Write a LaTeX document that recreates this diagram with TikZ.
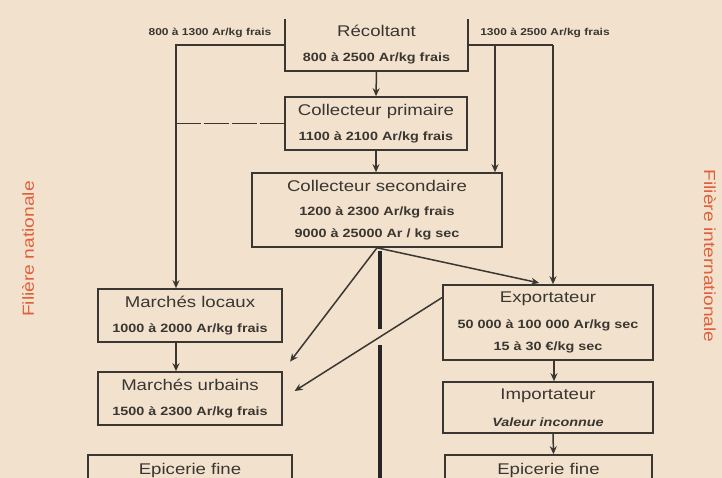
\documentclass[tikz,border=0pt]{standalone}
\usepackage{fontspec}
\usetikzlibrary{arrows.meta}
\newfontfamily\diagfont[FakeStretch=1.2]{Liberation Sans}
\definecolor{paper}{RGB}{242,226,205}
\definecolor{ink}{RGB}{58,54,50}
\definecolor{sidered}{RGB}{222,96,60}
\newcommand{\subtxt}{\fontsize{12}{25}\selectfont\bfseries}

\begin{document}
\begin{tikzpicture}[
    x=1pt, y=-1pt,
    box/.style={rectangle, draw=ink, line width=1.6pt, text=ink, align=center, inner sep=0pt, font=\diagfont\fontsize{15.5}{25}\selectfont},
    openbox/.style={box, draw=none},
    flow/.style={-{Stealth[length=8pt, width=7pt]}, line width=1.5pt, draw=ink},
    plain/.style={line width=1.5pt, draw=ink},
    trunk/.style={line width=4.5pt, draw=black!85},
    price/.style={font=\diagfont\fontsize{10}{12}\selectfont\bfseries, text=ink},
    side/.style={font=\diagfont\fontsize{16}{18}\selectfont, text=sidered}
]
    % Background and frame
    \fill[paper] (0,0) rectangle (722,478);
    \useasboundingbox (0,0) rectangle (722,478);
    % Producer
    \node[openbox, minimum width=181pt, minimum height=50pt] (recolt) at (376.5,45) {R\'ecoltant\\{\subtxt 800 \`a 2500 Ar/kg frais}};
    \draw[plain] (recolt.north west) -- (recolt.south west) -- (recolt.south east) -- (recolt.north east);
    % Collectors
    \node[box, minimum width=182pt, minimum height=53pt] (colp) at (376,123.5) {Collecteur primaire\\{\subtxt 1100 \`a 2100 Ar/kg frais}};
    \node[box, minimum width=250pt, minimum height=74pt] (cols) at (377,210) {Collecteur secondaire\\[-1pt]{\subtxt 1200 \`a 2300 Ar/kg frais}\\[-3pt]{\subtxt 9000 \`a 25000 Ar / kg sec}};
    % National chain
    \node[box, minimum width=184pt, minimum height=53pt] (mloc) at (190,315.5) {March\'es locaux\\{\subtxt 1000 \`a 2000 Ar/kg frais}};
    \node[box, minimum width=184pt, minimum height=53pt] (murb) at (190,398.5) {March\'es urbains\\{\subtxt 1500 \`a 2300 Ar/kg frais}};
    \node[box, minimum width=204pt, minimum height=30pt] (epl) at (190,470) {Epicerie fine};
    % International chain
    \node[box, minimum width=210pt, minimum height=75pt] (expo) at (548,322.5) {Exportateur\\[1pt]{\subtxt 50 000 \`a 100 000 Ar/kg sec}\\[-3pt]{\subtxt 15 \`a 30 \texteuro/kg sec}};
    \node[box, minimum width=210pt, minimum height=51pt] (impo) at (548,407.5) {Importateur\\[2pt]{\subtxt\itshape Valeur inconnue}};
    \node[box, minimum width=207pt, minimum height=30pt] (epr) at (548.5,470) {Epicerie fine};
    % Prices on the branches
    \node[price] (plocal) at (210,33) {800 \`a 1300 Ar/kg frais};
    \node[price] (pexport) at (545,33) {1300 \`a 2500 Ar/kg frais};
    % Side titles
    \node[side, rotate=90] (natl) at (28,249) {Fili\`ere nationale};
    \node[side, rotate=-90] (intl) at (710,256) {Fili\`ere internationale};
    % Turning points
    \coordinate (lturn) at (176,45);
    \coordinate (rmid) at (495,45);
    \coordinate (rturn) at (553,45);
    \coordinate (trunktop) at (380,251);
    \coordinate (gaptop) at (380,329);
    \coordinate (gapbot) at (380,345);
    \coordinate (trunkend) at (380,485);
    % Arrows
    \draw[flow] (recolt.west) -- (lturn) -- (lturn |- mloc.north);
    \draw[plain] (recolt.east) -- (rturn);
    \draw[flow] (rturn) -- (rturn |- expo.north);
    \draw[flow] (rmid) -- (rmid |- cols.north);
    \draw[plain, dash pattern=on 25pt off 3pt] (lturn |- colp.west) -- (colp.west);
    \draw[flow] (recolt.south) -- (colp.north);
    \draw[flow] (colp.south) -- (colp.south |- cols.north);
    \draw[flow, shorten >=12pt] (cols.south) -- (murb.north east);
    \draw[flow, shorten >=6pt] (cols.south) -- ([xshift=-3pt]expo.north);
    \draw[flow, shorten >=14pt] ([yshift=25pt]expo.west) -- (murb.east);
    \draw[flow] (lturn |- mloc.south) -- (lturn |- murb.north);
    \draw[flow] ([xshift=6pt]expo.south) -- ([xshift=6pt]impo.north);
    \draw[flow] ([xshift=5pt]impo.south) -- ([xshift=5pt]epr.north);
    % Trunk line
    \draw[trunk] (trunktop) -- (gaptop);
    \draw[trunk] (gapbot) -- (trunkend);
\end{tikzpicture}
\end{document}
